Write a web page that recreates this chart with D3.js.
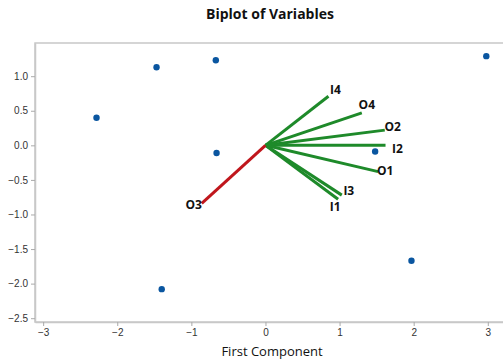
<!DOCTYPE html>
<html>
<head>
<meta charset="utf-8">
<script src="https://cdn.jsdelivr.net/npm/d3@7"></script>
<style>
  body { margin: 0; background: #fff; }
  svg { display: block; font-family: "Open Sans", "Noto Sans", sans-serif; }
  .tick text { fill: #333; font-size: 10px; }
</style>
</head>
<body>
<div id="chart"></div>
<script>
// Observation scores (first, second component)
var scoreX = [-2.28, -1.47, -0.67, -0.66, -1.40, 1.48, 1.97, 2.98];
var scoreY = [0.40, 1.13, 1.23, -0.11, -2.08, -0.09, -1.67, 1.29];

// Variable loadings (vector end points)
var varNames = ["I4", "O4", "O2", "I2", "O1", "I3", "I1", "O3"];
var varX = [0.85, 1.30, 1.61, 1.62, 1.52, 1.03, 0.98, -0.86];
var varY = [0.71, 0.47, 0.22, 0.00, -0.38, -0.72, -0.78, -0.84];

var xTicks = [-3, -2, -1, 0, 1, 2, 3];
var yTicks = [1.0, 0.5, 0.0, -0.5, -1.0, -1.5, -2.0, -2.5];

var width = 503, height = 362;
var margin = {top: 43, right: -40, bottom: 40, left: 35};
var innerW = width - margin.left - margin.right;
var innerH = height - margin.top - margin.bottom;

var svg = d3.select("#chart").append("svg")
    .attr("width", width)
    .attr("height", height);

// title
svg.append("text")
    .attr("x", 270)
    .attr("y", 19)
    .attr("text-anchor", "middle")
    .style("font-size", "14px")
    .style("font-weight", "bold")
    .style("fill", "#111")
    .text("Biplot of Variables");

var g = svg.append("g")
    .attr("transform", "translate(" + margin.left + "," + margin.top + ")");

// plot area runs past the right edge of the window, like the original
var xScale = d3.scaleLinear().domain([-3.11, 3.745]).range([0, innerW]);
var yScale = d3.scaleLinear().domain([1.48, -2.555]).range([0, innerH]);

// frame
g.append("rect")
    .attr("width", innerW)
    .attr("height", innerH)
    .attr("fill", "none")
    .attr("stroke", "#c8c8c8")
    .attr("stroke-width", 1.5);

// x axis
var xAxis = g.append("g")
    .attr("transform", "translate(0," + innerH + ")")
    .call(d3.axisBottom(xScale).tickValues(xTicks).tickSize(4).tickSizeOuter(0).tickFormat(d3.format("d")));
xAxis.select(".domain").attr("stroke", "#c8c8c8").attr("stroke-width", 1.5);
xAxis.selectAll(".tick line").attr("stroke", "#aaa");

// y axis
var yAxis = g.append("g")
    .call(d3.axisLeft(yScale).tickValues(yTicks).tickSize(4).tickSizeOuter(0).tickFormat(d3.format(".1f")));
yAxis.select(".domain").attr("stroke", "#c8c8c8").attr("stroke-width", 1.5);
yAxis.selectAll(".tick line").attr("stroke", "#aaa");
yAxis.selectAll(".tick text").attr("x", -7);

// axis title
svg.append("text")
    .attr("x", 272)
    .attr("y", 356)
    .attr("text-anchor", "middle")
    .style("font-size", "13px")
    .style("fill", "#111")
    .text("First Component");

// observation points
var scores = scoreX.map(function (d, i) { return {x: d, y: scoreY[i]}; });
g.selectAll("circle.score")
    .data(scores)
    .enter()
    .append("circle")
    .attr("class", "score")
    .attr("cx", function (d) { return xScale(d.x); })
    .attr("cy", function (d) { return yScale(d.y); })
    .attr("r", 3.2)
    .style("fill", "#0a56a0");

// loading vectors
var vars = varNames.map(function (n, i) { return {name: n, x: varX[i], y: varY[i]}; });
g.selectAll("line.vec")
    .data(vars)
    .enter()
    .append("line")
    .attr("class", "vec")
    .attr("x1", xScale(0))
    .attr("y1", yScale(0))
    .attr("x2", function (d) { return xScale(d.x); })
    .attr("y2", function (d) { return yScale(d.y); })
    .attr("stroke", function (d) { return d.name === "O3" ? "#c0161c" : "#1e8a2a"; })
    .attr("stroke-width", 3);

// label nudges in pixels, relative to vector end
var nudge = {
    I4: [7, -7], O4: [5, -8], O2: [8, -4], I2: [12, 3],
    O1: [7, -1], I3: [7, -5], I1: [-3, 7], O3: [-8, 1]
};

g.selectAll("text.vlab")
    .data(vars)
    .enter()
    .append("text")
    .attr("class", "vlab")
    .attr("x", function (d) { return xScale(d.x) + nudge[d.name][0]; })
    .attr("y", function (d) { return yScale(d.y) + nudge[d.name][1]; })
    .attr("text-anchor", "middle")
    .attr("dominant-baseline", "central")
    .style("font-size", "12px")
    .style("font-weight", "bold")
    .style("fill", "#111")
    .text(function (d) { return d.name; });
</script>
</body>
</html>
